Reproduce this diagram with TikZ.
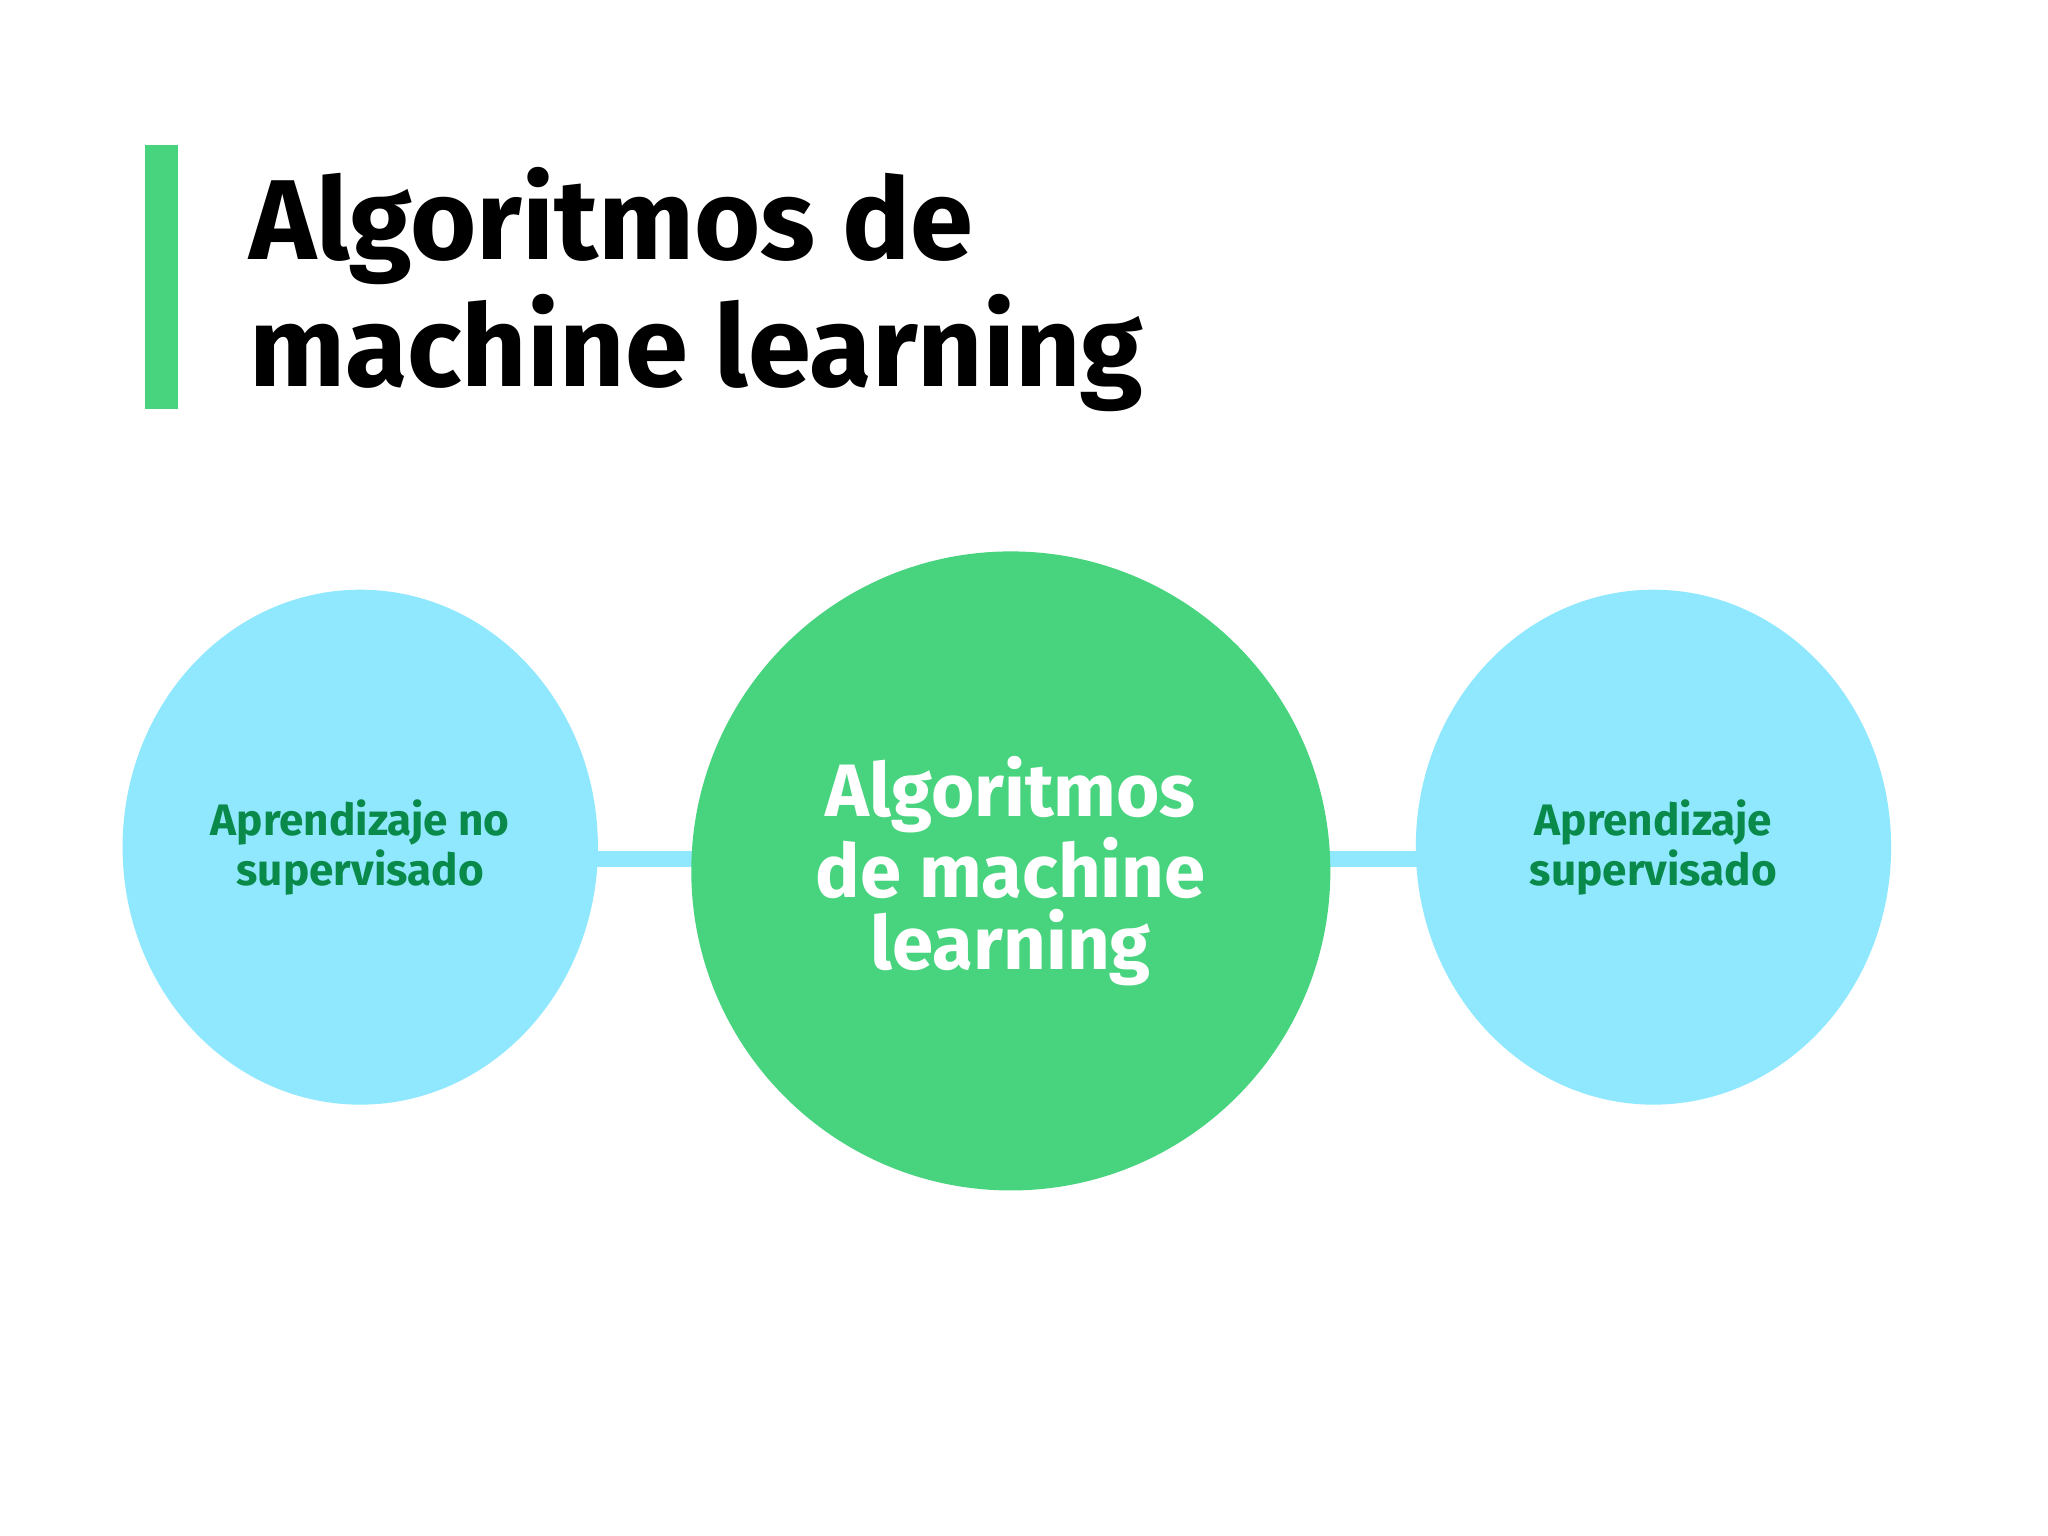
\documentclass[tikz,border=0pt]{standalone}
\usepackage{fontspec}
\setmainfont{Fira Sans}
\usetikzlibrary{shapes.geometric}
\definecolor{gbar}{HTML}{48D47E}
\definecolor{lblue}{HTML}{90E8FF}
\definecolor{dgreen}{HTML}{0A8A4A}
\tikzset{
  side/.style={ellipse,fill=lblue,minimum width=3.6cm,minimum height=3.9cm,inner sep=0pt,align=center,text=dgreen,font=\fontsize{9.5}{9.5}\selectfont\bfseries},
  mid/.style={circle,fill=gbar,minimum size=4.84cm,inner sep=0pt,align=center,text=white,font=\fontsize{16}{15.5}\selectfont\bfseries},
  link/.style={lblue,line width=0.12cm}
}
\begin{document}
\begin{tikzpicture}[x=0.01cm,y=-0.01cm]
\useasboundingbox[fill=white] (0,0) rectangle (1552,1164);
\fill[gbar] (110,110) rectangle (135,310);
\node[anchor=base west,inner sep=0pt,align=left,font=\fontsize{24.5}{27.5}\selectfont\bfseries] (title) at (188,293) {Algoritmos de\\machine learning};
\coordinate (l1) at (440,651); \coordinate (l2) at (540,651);
\coordinate (r1) at (990,651); \coordinate (r2) at (1090,651);
\draw[link] (l1) -- (l2);
\draw[link] (r1) -- (r2);
\node[side] (left) at (273,642) {Aprendizaje no\\supervisado};
\node[mid] (center) at (766,660) {Algoritmos\\de machine\\learning};
\node[side] (right) at (1253,642) {Aprendizaje\\supervisado};
\end{tikzpicture}
\end{document}
